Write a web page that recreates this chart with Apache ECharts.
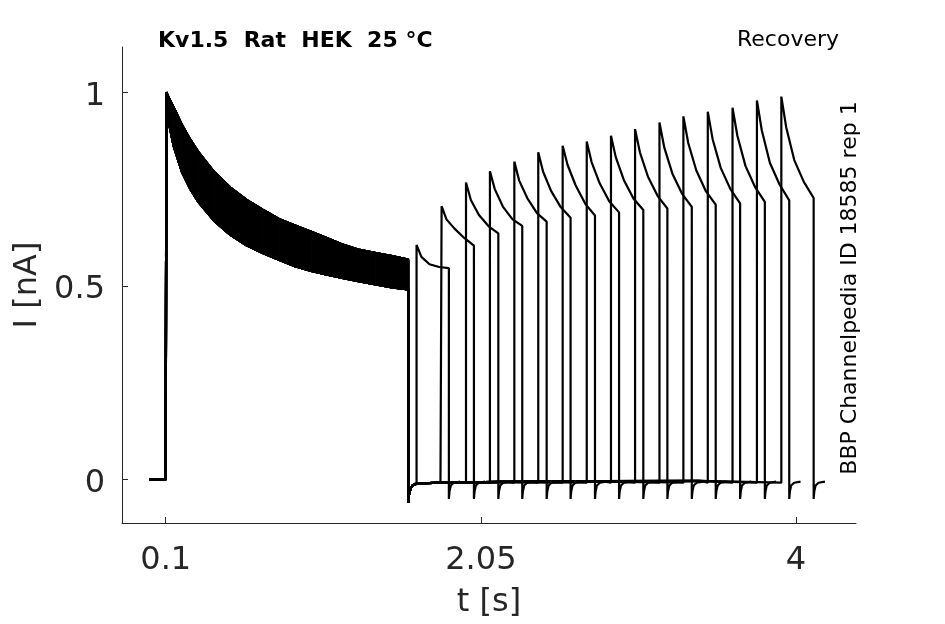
<!DOCTYPE html>
<html>
<head>
<meta charset="utf-8">
<script src="https://cdn.jsdelivr.net/npm/echarts@6/dist/echarts.min.js"></script>
<style>html,body{margin:0;padding:0;background:#fff}#c{width:945px;height:624px}</style>
</head>
<body>
<div id="c"></div>
<script>
// ---- data ----
const xTicks = [0.1, 2.05, 4];
const yTicks = [0, 0.5, 1];
// first pulse (0.1 s -> 1.6 s), envelope of the 16 overlaid sweeps
const p1Times = [0.104, 0.12, 0.15, 0.2, 0.25, 0.3, 0.4, 0.5, 0.6, 0.7, 0.8, 0.9, 1.0, 1.1, 1.2, 1.3, 1.4, 1.5, 1.6];
const p1Upper = [1.0, 0.985, 0.96, 0.916, 0.879, 0.847, 0.794, 0.754, 0.722, 0.697, 0.673, 0.656, 0.64, 0.623, 0.606, 0.593, 0.585, 0.577, 0.568];
const p1Lower = [1.0, 0.92, 0.86, 0.795, 0.752, 0.718, 0.668, 0.632, 0.605, 0.585, 0.568, 0.551, 0.539, 0.529, 0.52, 0.512, 0.504, 0.496, 0.491];
const p1Start = 0.1, p1End = 1.6;
const p1EndDip = -0.06;
// holding current after the first pulse
const baseTimes = [1.6, 1.605, 1.615, 1.63, 1.66, 1.8, 2.2, 2.8, 3.4, 4.0];
const baseVals = [-0.06, -0.04, -0.022, -0.014, -0.01, -0.008, -0.006, -0.004, -0.003, -0.002];
// second (test) pulses, one per sweep
const p2Start = [1.652, 1.807, 1.958, 2.106, 2.257, 2.405, 2.556, 2.705, 2.855, 3.004, 3.155, 3.303, 3.454, 3.607, 3.758, 3.909];
const p2Offsets = [0, 0.03, 0.08, 0.14, 0.2];
const p2Vals = [
  [0.606, 0.575, 0.556, 0.549, 0.546],
  [0.706, 0.672, 0.648, 0.624, 0.604],
  [0.767, 0.722, 0.683, 0.654, 0.636],
  [0.796, 0.750, 0.705, 0.672, 0.655],
  [0.821, 0.772, 0.727, 0.688, 0.666],
  [0.845, 0.795, 0.745, 0.703, 0.676],
  [0.862, 0.813, 0.760, 0.712, 0.682],
  [0.873, 0.820, 0.765, 0.718, 0.690],
  [0.888, 0.832, 0.773, 0.725, 0.696],
  [0.905, 0.845, 0.782, 0.732, 0.700],
  [0.922, 0.857, 0.790, 0.738, 0.704],
  [0.938, 0.869, 0.798, 0.744, 0.710],
  [0.950, 0.879, 0.805, 0.750, 0.713],
  [0.960, 0.888, 0.810, 0.755, 0.717],
  [0.979, 0.902, 0.818, 0.762, 0.721],
  [0.989, 0.910, 0.825, 0.768, 0.727]
];
// tail current after each test pulse
const tailOffsets = [0, 0.004, 0.012, 0.03, 0.07];
const tailVals = [-0.05, -0.03, -0.015, -0.008, -0.005];

// ---- build series ----
const black = '#000';
const lw = 2.2;
const series = [];
// filled band between the envelopes (quads between neighbouring samples)
const bandData = [];
for (let i = 0; i < p1Times.length - 1; i++) {
  bandData.push([p1Times[i], p1Lower[i], p1Upper[i], p1Times[i + 1], p1Lower[i + 1], p1Upper[i + 1]]);
}
series.push({
  type: 'custom', data: bandData, z: 2, silent: true,
  encode: {x: [0, 3], y: [1, 2, 4, 5]},
  renderItem: function (params, api) {
    const a = api.coord([api.value(0), api.value(1)]);
    const b = api.coord([api.value(3), api.value(4)]);
    const c = api.coord([api.value(3), api.value(5)]);
    const d = api.coord([api.value(0), api.value(2)]);
    return {type: 'polygon', shape: {points: [a, b, c, d]}, style: {fill: black, stroke: black, lineWidth: 1}};
  }
});
series.push({type: 'line', data: p1Times.map((t, i) => [t, p1Upper[i]]), symbol: 'none', lineStyle: {color: black, width: lw}, z: 3});
series.push({type: 'line', data: p1Times.map((t, i) => [t, p1Lower[i]]), symbol: 'none', lineStyle: {color: black, width: lw}, z: 3});

p2Start.forEach((s, k) => {
  const d = [[0, 0], [p1Start, 0]];
  p1Times.forEach((t, i) => d.push([t, (k % 2 ? p1Upper : p1Lower)[i]]));
  d.push([p1End, p1EndDip]);
  baseTimes.forEach((t, i) => { if (t > p1End && t < s) d.push([t, baseVals[i]]); });
  d.push([s, -0.008]);
  p2Offsets.forEach((o, i) => d.push([s + o, p2Vals[k][i]]));
  const e = s + p2Offsets[p2Offsets.length - 1];
  tailOffsets.forEach((o, i) => d.push([e + o, tailVals[i]]));
  series.push({type: 'line', data: d, symbol: 'none', lineStyle: {color: black, width: lw}, z: 3});
});

const tickColor = '#262626';
const chart = echarts.init(document.getElementById('c'), null, {renderer: 'canvas'});
chart.setOption({
  animation: false,
  grid: {left: 122, right: 89, top: 47, bottom: 98, containLabel: false},
  xAxis: {
    type: 'value', min: -0.1705, max: 4.371,
    name: 't [s]', nameLocation: 'middle', nameGap: 64,
    nameTextStyle: {fontFamily: 'DejaVu Sans', fontSize: 32, color: tickColor},
    axisLine: {show: true, onZero: false, lineStyle: {color: tickColor, width: 1}},
    axisTick: {show: true, inside: true, length: 6, customValues: xTicks, lineStyle: {color: tickColor}},
    axisLabel: {customValues: xTicks, fontFamily: 'DejaVu Sans', fontSize: 32, color: tickColor, margin: 22},
    splitLine: {show: false}
  },
  yAxis: {
    type: 'value', min: -0.112, max: 1.117,
    name: 'I [nA]', nameLocation: 'middle', nameGap: 78,
    nameTextStyle: {fontFamily: 'DejaVu Sans', fontSize: 32, color: tickColor},
    axisLine: {show: true, onZero: false, lineStyle: {color: tickColor, width: 1}},
    axisTick: {show: true, inside: true, length: 6, customValues: yTicks, lineStyle: {color: tickColor}},
    axisLabel: {
      customValues: yTicks, margin: 17,
      formatter: '{a|{value}}',
      rich: {a: {fontFamily: 'DejaVu Sans', fontSize: 32, color: tickColor, padding: [8, 0, 0, 0]}}
    },
    splitLine: {show: false}
  },
  graphic: [
    {type: 'text', left: 158, top: 30, style: {text: 'Kv1.5  Rat  HEK  25 °C', font: 'bold 22px "DejaVu Sans"', fill: '#000'}},
    {type: 'text', right: 106, top: 29, style: {text: 'Recovery', font: '22px "DejaVu Sans"', fill: '#000'}},
    {type: 'text', x: 850, y: 288, rotation: Math.PI / 2, style: {text: 'BBP Channelpedia ID 18585 rep 1', font: '22px "DejaVu Sans"', fill: '#000', align: 'center', verticalAlign: 'middle'}}
  ],
  series: series
});
</script>
</body>
</html>
